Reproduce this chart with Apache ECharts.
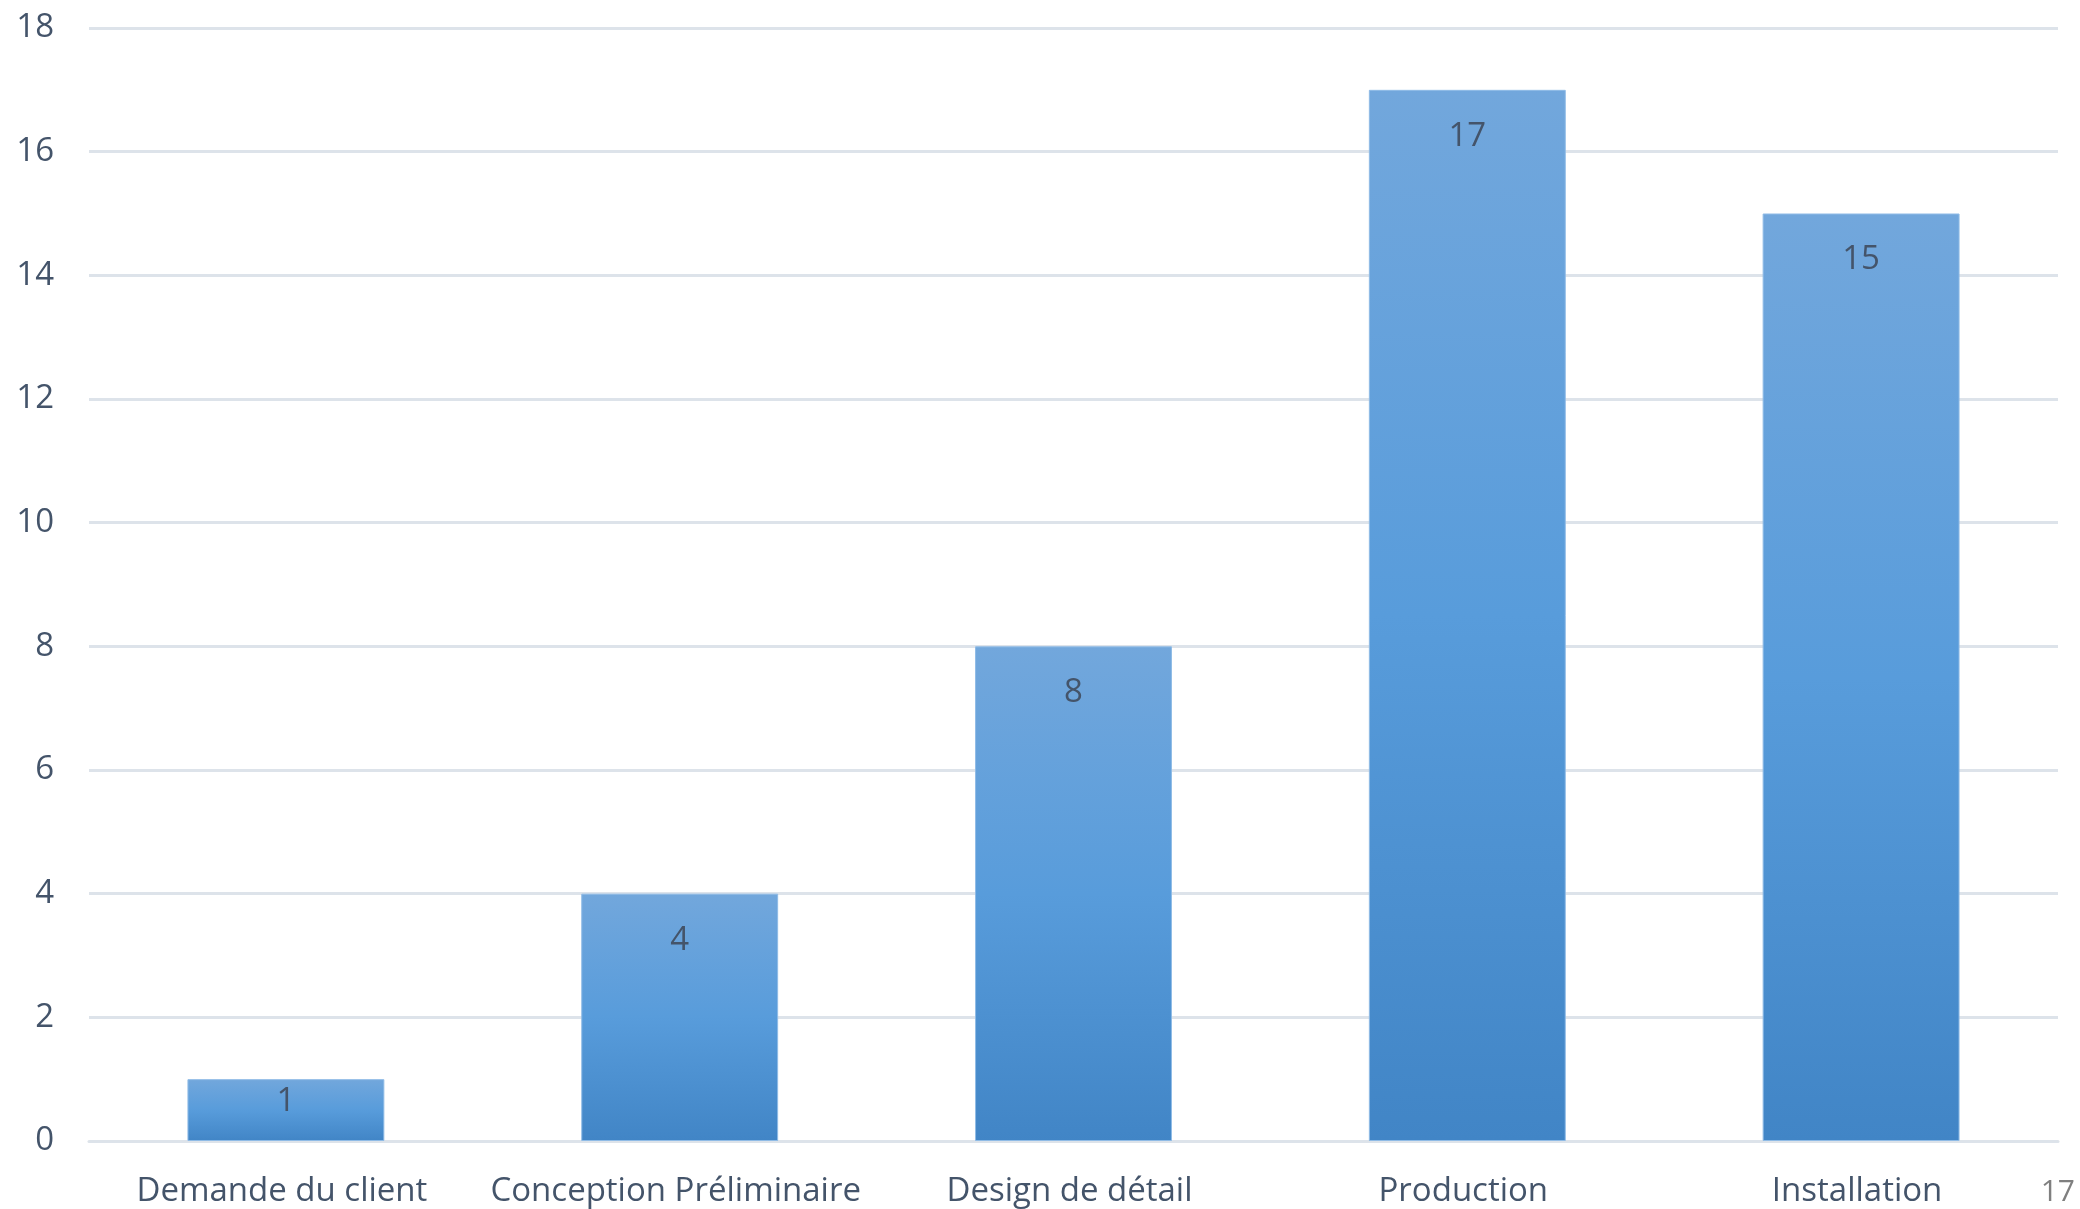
<!DOCTYPE html>
<html>
<head>
<meta charset="utf-8">
<script src="https://cdn.jsdelivr.net/npm/echarts@6/dist/echarts.min.js"></script>
<style>
html,body{margin:0;padding:0;background:#fff;}
#chart{width:2080px;height:1209px;}
</style>
</head>
<body>
<div id="chart"></div>
<script>
const categories = ["Demande du client", "Conception Préliminaire", "Design de détail", "Production", "Installation"];
const values = [1, 4, 8, 17, 15];
const yTicks = [0, 2, 4, 6, 8, 10, 12, 14, 16, 18];
const pageNumber = "17";

const chart = echarts.init(document.getElementById('chart'), null, {renderer: 'canvas'});
const font = "'Open Sans', 'Noto Sans', sans-serif";
const fs = 33;
chart.setOption({
  animation: false,
  backgroundColor: '#ffffff',
  grid: {left: 89, right: 22, top: 28, bottom: 68, containLabel: false},
  xAxis: {
    type: 'category',
    data: categories,
    axisLine: {show: true, lineStyle: {color: '#dde3ea', width: 3}},
    axisTick: {show: false},
    axisLabel: {color: '#44546a', fontSize: fs, fontFamily: font, margin: 34, interval: 0, padding: [0, 8, 0, 0]}
  },
  yAxis: {
    type: 'value',
    min: yTicks[0],
    max: yTicks[yTicks.length - 1],
    interval: yTicks[1] - yTicks[0],
    axisLine: {show: false},
    axisTick: {show: false},
    splitLine: {lineStyle: {color: '#dde3ea', width: 3}},
    axisLabel: {color: '#44546a', fontSize: fs, fontFamily: font, margin: 35}
  },
  series: [{
    type: 'bar',
    data: values.map(v => v < 2 ? {value: v, label: {distance: 6}} : v),
    barWidth: '50%',
    itemStyle: {
      color: new echarts.graphic.LinearGradient(0, 0, 0, 1, [
        {offset: 0, color: '#72a7dc'},
        {offset: 0.5, color: '#589cdb'},
        {offset: 1, color: '#4185c6'}
      ]),
      borderColor: '#8fbbe6',
      borderWidth: 1
    },
    label: {
      show: true,
      position: 'insideTop',
      distance: 30,
      color: '#44546a',
      fontSize: fs,
      fontFamily: font
    }
  }],
  graphic: [{
    type: 'text',
    right: 5,
    bottom: 2,
    style: {text: pageNumber, fill: '#7f7f7f', fontSize: 30, fontFamily: font}
  }]
});
</script>
</body>
</html>
